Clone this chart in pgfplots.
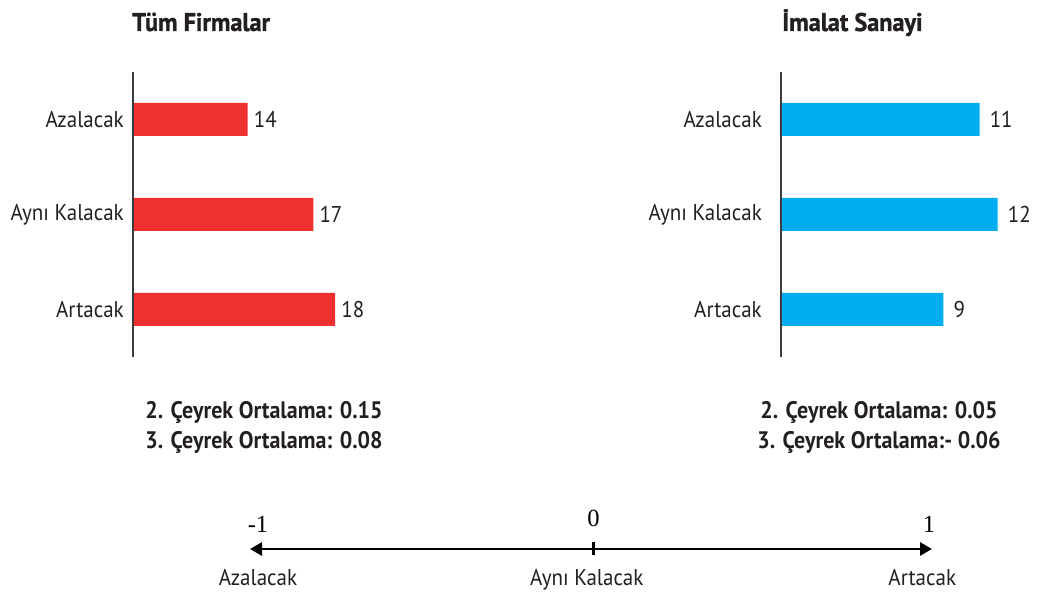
\documentclass[border=0pt]{standalone}
\usepackage{fontspec}
\setmainfont{PT Sans}[FakeStretch=0.92]
\newfontfamily\heavy{PT Sans}[UprightFont={* Bold}, FakeBold=1.2, FakeStretch=0.95]
\newfontfamily\serif{Liberation Serif}
\usepackage{pgfplots}
\pgfplotsset{compat=1.18}
\usetikzlibrary{arrows.meta}

\definecolor{barRed}{RGB}{238,49,47}
\definecolor{barBlue}{RGB}{0,174,239}
\definecolor{textGray}{RGB}{35,31,32}
\definecolor{axisGray}{RGB}{60,60,60}

\newcommand\lab{\fontsize{13}{15}\selectfont}
\newcommand\note{\fontsize{13.6}{16}\selectfont\bfseries}

\pgfplotsset{
  panel/.style={
    anchor=south west,
    scale only axis, width=5cm, height=5.7cm,
    xbar, bar width=0.66cm,
    ymin=-0.5, ymax=2.5,
    axis y line*=left, axis x line=none,
    axis on top,
    ytick={0,1,2}, yticklabels={Artacak,Aynı Kalacak,Azalacak},
    major tick length=0pt,
    y axis line style={draw=axisGray, line width=0.6pt},
    yticklabel style={font=\lab, text=textGray, xshift=-0.06cm},
    /pgf/number format/assume math mode=true,
    nodes near coords,
    every node near coord/.append style={font=\lab, text=textGray},
  },
}

\begin{document}
\begin{tikzpicture}
\path[use as bounding box] (0,0) rectangle (20.9cm,11.84cm);

% ===== Tüm Firmalar =====
\begin{axis}[panel, at={(2.66cm,4.70cm)}, xmin=8.75, xmax=20.19]
\addplot[fill=barRed, draw=none] coordinates {(18,0) (17,1) (14,2)};
\end{axis}

% ===== İmalat Sanayi =====
\begin{axis}[panel, at={(15.62cm,4.70cm)}, xmin=0, xmax=13.85,
  yticklabel style={xshift=-0.2cm},
  every node near coord/.append style={xshift=0.08cm}]
\addplot[fill=barBlue, draw=none] coordinates {(9,0) (12,1) (11,2)};
\end{axis}

\node[anchor=base west, font=\heavy\fontsize{14.5}{17}\selectfont, text=textGray, inner sep=0pt] at (2.64cm,11.22cm) {Tüm Firmalar};
\node[anchor=base west, font=\heavy\fontsize{14.5}{17}\selectfont, text=textGray, inner sep=0pt] at (15.64cm,11.22cm) {İmalat Sanayi};

\node[anchor=base, font=\note, text=textGray, inner sep=0pt] at (5.28cm,3.46cm) {2. Çeyrek Ortalama: 0.15};
\node[anchor=base, font=\note, text=textGray, inner sep=0pt] at (5.28cm,2.86cm) {3. Çeyrek Ortalama: 0.08};
\node[anchor=base, font=\note, text=textGray, inner sep=0pt] at (17.58cm,3.46cm) {2. Çeyrek Ortalama: 0.05};
\node[anchor=base, font=\note, text=textGray, inner sep=0pt] at (17.58cm,2.86cm) {3. Çeyrek Ortalama:- 0.06};

% ===== Scale -1 .. 1 =====
\begin{axis}[
  at={(5.0cm,0.86cm)}, anchor=north west,
  scale only axis, width=13.64cm, height=0.1cm,
  xmin=-1.024, xmax=1.009, ymin=0, ymax=1,
  clip=false,
  axis x line*=top, axis y line=none,
  x axis line style={draw=black, line width=1.7pt,
    {Triangle[length=0.24cm,width=0.26cm]}-{Triangle[length=0.24cm,width=0.26cm]}},
  xtick={0}, xticklabels={0},
  extra x ticks={-1,1}, extra x tick labels={-1,1},
  extra x tick style={major tick length=0pt},
  major tick length=0.26cm, tick align=center,
  tick style={draw=black, line width=1.5pt},
  xticklabel style={font=\serif\fontsize{14}{16}\selectfont, text=black, yshift=0.2cm},
]
\addplot[draw=none, forget plot] coordinates {(-1,0) (1,0)};
\node[anchor=base, font=\lab, text=textGray] at (axis cs:-1.0,1) [yshift=-0.74cm] {Azalacak};
\node[anchor=base, font=\lab, text=textGray] at (axis cs:-0.02,1) [yshift=-0.74cm] {Aynı Kalacak};
\node[anchor=base, font=\lab, text=textGray] at (axis cs:0.98,1) [yshift=-0.74cm] {Artacak};
\end{axis}
\end{tikzpicture}
\end{document}
